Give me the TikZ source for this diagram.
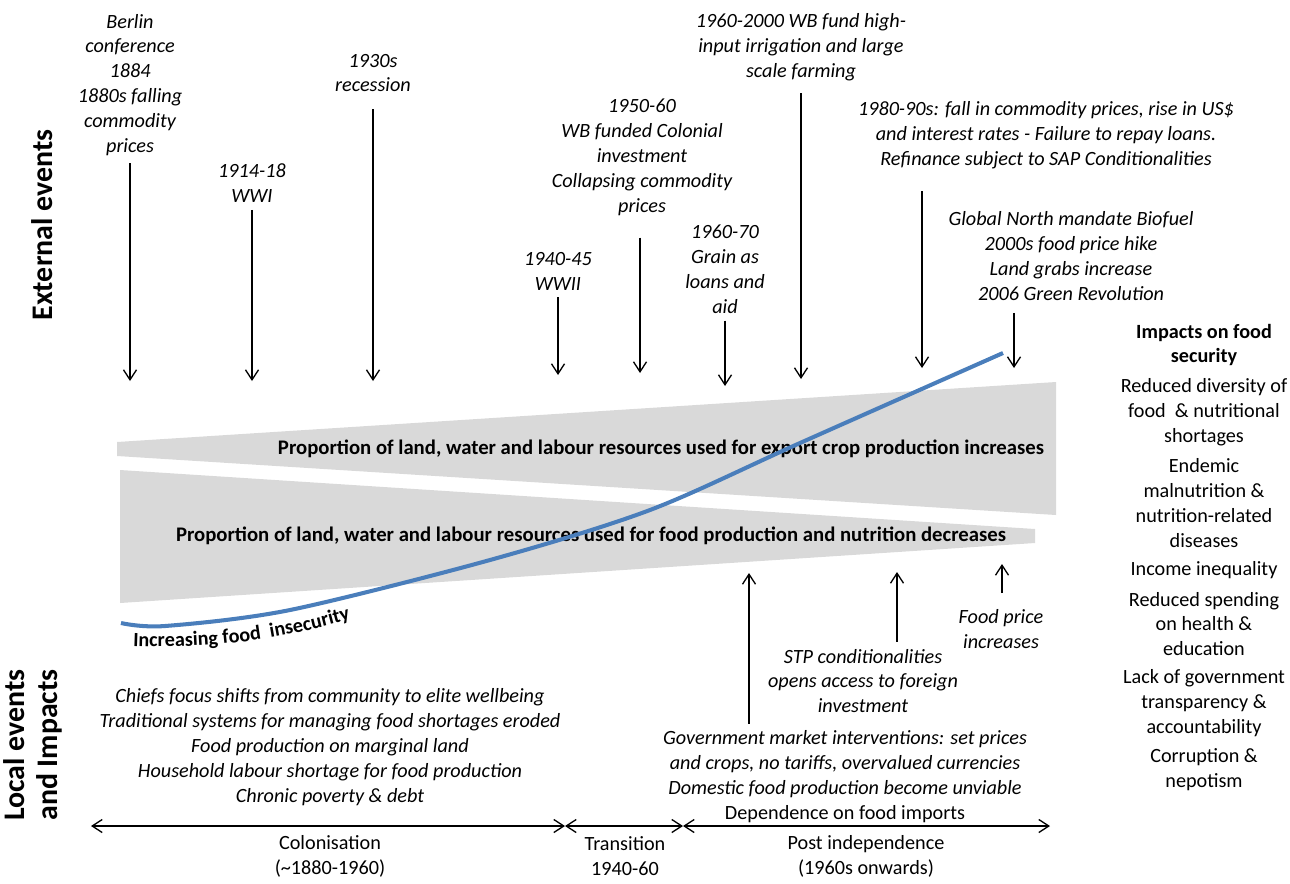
\documentclass[tikz,border=0pt]{standalone}
\usepackage{fontspec}
\setmainfont{Carlito}
\usetikzlibrary{arrows.meta,decorations.text,positioning}
\definecolor{bandgrey}{HTML}{D9D9D9}
\definecolor{trendblue}{HTML}{4A7EBB}
\newcommand{\txtsize}{\fontsize{11.5}{14.2}\selectfont}
\newcommand{\bandsize}{\fontsize{11.8}{14.2}\selectfont}

\tikzset{
  evtext/.style={align=center, font=\txtsize\itshape, inner sep=4pt},
  plaintext/.style={align=center, font=\txtsize, inner sep=1pt},
  impacttext/.style={align=center, font=\txtsize, inner sep=1pt},
  bandtext/.style={font=\bandsize\bfseries, inner sep=1pt},
  sidelabel/.style={rotate=90, align=center, font=\fontsize{17}{19}\selectfont\bfseries, inner sep=0pt},
  evarrow/.style={-{Straight Barb[length=2mm,width=2.6mm]}, line width=0.75pt},
  period/.style={{Straight Barb[length=2mm,width=2.6mm]}-{Straight Barb[length=2mm,width=2.6mm]}, line width=0.75pt},
}

\begin{document}
\begin{tikzpicture}[x=0.02cm, y=-0.02cm]

    \useasboundingbox (0,0) rectangle (1290,883);

    % side titles
    \node[sidelabel] (extev) at (42,225) {External events};
    \node[sidelabel] (locev) at (33,745) {Local events\\and Impacts};

    % grey bands
    \fill[bandgrey] (117,442) -- (1056,382) -- (1056,515) -- (117,456) -- cycle;
    \fill[bandgrey] (120,470) -- (1035,529) -- (1035,543) -- (120,603) -- cycle;
    \node[bandtext] (exportlbl) at (661,449) {Proportion of land, water and labour resources used for export crop production increases};
    \node[bandtext] (foodlbl) at (591,536) {Proportion of land, water and labour resources used for food production and nutrition decreases};

    % food insecurity trend
    \draw[trendblue, line width=2.3pt] plot[smooth] coordinates {(121,623) (165,626) (290,610) (490,560) (650,510) (800,443) (1003,353)};
    \path[decorate, decoration={text along path, text align=left,
        text={|\txtsize\bfseries|Increasing food{ }{ }insecurity}}]
        (133,646) .. controls (215,649) and (280,640) .. (362,616);

    % external events
    \node[evtext] (berlin) at (130,85) {Berlin\\conference\\1884\\1880s falling\\commodity\\prices};
    \node[evtext] (wwi) at (252,183) {1914-18\\WWI};
    \node[evtext] (recession) at (373,73) {1930s\\recession};
    \node[evtext] (wwii) at (558,271) {1940-45\\WWII};
    \node[evtext] (colonial) at (642,157) {1950-60\\WB funded Colonial\\investment\\Collapsing commodity\\prices};
    \node[evtext] (grain) at (725,269) {1960-70\\Grain as\\loans and\\aid};
    \node[evtext] (wbfund) at (801,47) {1960-2000 WB fund high-\\input irrigation and large\\scale farming};
    \node[evtext] (debt) at (1046,135) {1980-90s: fall in commodity prices, rise in US\$\\and interest rates - Failure to repay loans.\\Refinance subject to SAP Conditionalities};
    \node[evtext] (biofuel) at (1071,256) {Global North mandate Biofuel\\2000s food price hike\\Land grabs increase\\2006 Green Revolution};

    \coordinate (berlintip) at (130,381);
    \coordinate (wwitip) at (252,381);
    \coordinate (recessiontip) at (373,381);
    \coordinate (wwiitip) at (558,375);
    \coordinate (colonialtip) at (640,373);
    \coordinate (graintip) at (725,386);
    \coordinate (wbfundtip) at (801,379);
    \coordinate (debttip) at (922,368);
    \coordinate (biofueltip) at (1014,368);

    \draw[evarrow] (berlin.south -| berlintip) -- (berlintip);
    \draw[evarrow] (wwi.south -| wwitip) -- (wwitip);
    \draw[evarrow, shorten <=2mm] (recession.south -| recessiontip) -- (recessiontip);
    \draw[evarrow] (wwii.south -| wwiitip) -- (wwiitip);
    \draw[evarrow, shorten <=3mm] (colonial.south -| colonialtip) -- (colonialtip);
    \draw[evarrow] (grain.south -| graintip) -- (graintip);
    \draw[evarrow, shorten <=1mm] (wbfund.south -| wbfundtip) -- (wbfundtip);
    \draw[evarrow, shorten <=3mm] (debt.south -| debttip) -- (debttip);
    \draw[evarrow, shorten <=1mm] (biofuel.south -| biofueltip) -- (biofueltip);

    % local events
    \node[evtext] (chiefs) at (330,747) {Chiefs focus shifts from community to elite wellbeing\\Traditional systems for managing food shortages eroded\\Food production on marginal land\\Household labour shortage for food production\\Chronic poverty \& debt};
    \node[evtext] (govt) at (845,777) {Government market interventions: set prices\\and crops, no tariffs, overvalued currencies\\Domestic food production become unviable\\{\upshape Dependence on food imports}};
    \node[evtext] (stp) at (863,681) {STP conditionalities\\opens access to foreign\\investment};
    \node[evtext] (foodprice) at (1001,629) {Food price\\increases};

    \coordinate (govttip) at (749,573);
    \coordinate (stptip) at (897,572);
    \coordinate (pricetip) at (1002,564);
    \draw[evarrow] (govt.north -| govttip) -- (govttip);
    \draw[evarrow] (stp.north -| stptip) -- (stptip);
    \draw[evarrow, shorten <=1.8mm] (foodprice.north -| pricetip) -- (pricetip);

    % periods
    \coordinate (t0) at (91,826);
    \coordinate (t1) at (565,826);
    \coordinate (t2) at (683,826);
    \coordinate (t3) at (1050,826);
    \draw[period] (t0) -- (t1);
    \draw[period] (t1) -- (t2);
    \draw[period] (t2) -- (t3);
    \node[plaintext] (colonisation) at (330,856) {Colonisation\\(\textasciitilde1880-1960)};
    \node[plaintext] (transition) at (625,856) {Transition\\1940-60};
    \node[plaintext] (postind) at (866,856) {Post independence\\(1960s onwards)};

    % impacts column
    \node[impacttext, font=\txtsize\bfseries] (impacts) at (1204,345) {Impacts on food\\security};
    \node[impacttext] (diversity) at (1204,412) {Reduced diversity of\\food \ \& nutritional\\shortages};
    \node[impacttext] (endemic) at (1204,503) {Endemic\\malnutrition \&\\nutrition-related\\diseases};
    \node[impacttext] (income) at (1204,570) {Income inequality};
    \node[impacttext] (spending) at (1204,624) {Reduced spending\\on health \&\\education};
    \node[impacttext] (govlack) at (1204,703) {Lack of government\\transparency \&\\accountability};
    \node[impacttext] (corruption) at (1204,770) {Corruption \&\\nepotism};

\end{tikzpicture}
\end{document}
